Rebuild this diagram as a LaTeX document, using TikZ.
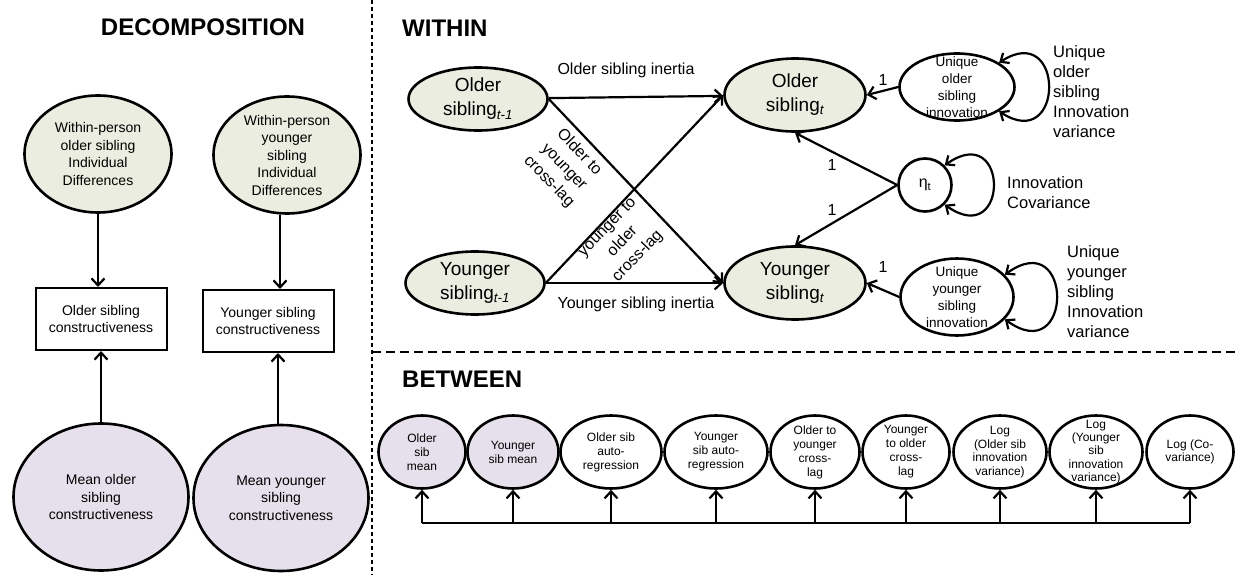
\documentclass[tikz,border=0pt]{standalone}
\usepackage{fontspec}
\setmainfont{Liberation Sans}
\usetikzlibrary{shapes.geometric,arrows.meta}
\definecolor{gfill}{HTML}{EAEDDF}
\definecolor{pfill}{HTML}{E5E0EC}
\newcommand\fsz[2]{\fontsize{#1}{#2}\selectfont}
\newcommand\ellnode[7]{%
  \node[ellshape,#5,minimum width=#3pt,minimum height=#4pt] (#1) at (#2) {};
  \node[lbl,font=#6] (#1-t) at (#1) {#7};}
\begin{document}
\begin{tikzpicture}[x=1pt,y=-1pt,
  ellshape/.style={ellipse,draw,line width=2.6pt,inner sep=0pt},
  lbl/.style={align=center,inner sep=0pt},
  boxstyle/.style={rectangle,draw,line width=2pt,inner sep=0pt,minimum width=131pt,minimum height=62pt,align=center,font=\fsz{14}{17}},
  arr/.style={line width=2.2pt,-{Straight Barb[length=7pt,width=13pt]}},
  loopy/.style={line width=2.2pt,{Straight Barb[length=7pt,width=12pt]}-{Straight Barb[length=7pt,width=12pt]}},
  sep/.style={line width=1.3pt},
  head/.style={inner sep=0pt,font=\fsz{24}{28}\bfseries},
  elab/.style={inner sep=0pt,font=\fsz{16}{20}},
  rlab/.style={inner sep=0pt,align=left,anchor=west,font=\fsz{16.5}{20}}
]
\useasboundingbox (0,0) rectangle (1235,575);
% separators
\draw[sep,dash pattern=on 4pt off 3pt] (372,0) -- (372,575);
\draw[sep,dash pattern=on 9pt off 5pt] (372,352) -- (1235,352);

% ---------------- DECOMPOSITION ----------------
\node[head] (hdec) at (203,27) {DECOMPOSITION};
\ellnode{e1}{98,154}{147}{117}{fill=gfill}{\fsz{14}{17.5}}{Within-person\\older sibling\\Individual\\Differences}
\ellnode{e2}{287,155}{147}{117}{fill=gfill}{\fsz{14}{17.5}}{Within-person\\younger\\sibling\\Individual\\Differences}
\node[boxstyle] (b1x) at (101,319) {Older sibling\\constructiveness};
\node[boxstyle] (b2x) at (268,321) {Younger sibling\\constructiveness};
\ellnode{e3}{101,497}{175}{147}{fill=pfill}{\fsz{14}{17.5}}{Mean older\\sibling\\constructiveness}
\ellnode{e4}{281,498}{175}{146}{fill=pfill}{\fsz{14}{17.5}}{Mean younger\\sibling\\constructiveness}
\draw[arr] (e1.south) -- (e1.south |- b1x.north);
\draw[arr] ([xshift=-7pt]e2.south) -- ([xshift=-7pt]e2.south |- b2x.north);
\draw[arr] (e3.north) -- (e3.north |- b1x.south);
\draw[arr] ([xshift=-3pt]e4.north) -- ([xshift=-3pt]e4.north |- b2x.south);

% ---------------- WITHIN ----------------
\node[head,anchor=west] (hwit) at (402,28) {WITHIN};
\ellnode{ol}{478,99}{139}{63}{fill=gfill}{\fsz{19}{24}}{Older\\sibling\textsubscript{\itshape t-1}}
\ellnode{yl}{475,283}{139}{63}{fill=gfill}{\fsz{19}{24}}{Younger\\sibling\textsubscript{\itshape t-1}}
\ellnode{ot}{795,95}{141}{73}{fill=gfill}{\fsz{19}{24}}{Older\\sibling\textsubscript{\itshape t}}
\ellnode{yt}{795,283}{141}{73}{fill=gfill}{\fsz{19}{24}}{Younger\\sibling\textsubscript{\itshape t}}
\node[circle,draw,line width=2.6pt,inner sep=0pt,minimum size=53pt,font=\fsz{16}{20}] (eta) at (925,185) {η\textsubscript{t}};
\ellnode{uo}{957,87}{115}{67}{}{\fsz{13.5}{17}}{Unique\\older\\sibling\\innovation}
\ellnode{uy}{957,297}{113}{77}{}{\fsz{13.5}{17}}{Unique\\younger\\sibling\\innovation}

\draw[arr] (ol) -- (ot);
\draw[arr] (yl) -- (yt);
\draw[arr] (ol.east) -- (yt.west);
\draw[arr] (yl.east) -- (ot.west);
\draw[arr] (eta.west) -- (ot.south);
\draw[arr] (eta.west) -- (yt.north);
\draw[arr] (uo.west) -- (ot.east);
\draw[arr] (uy.west) -- (yt.east);

\draw[loopy] (uo.30) .. controls +(66,-43) and +(66,43) .. (uo.-30);
\draw[loopy] (eta.45) .. controls +(65,-46) and +(65,46) .. (eta.-45);
\draw[loopy] (uy.25) .. controls +(69,-50) and +(69,50) .. (uy.-25);

\node[elab] (linr1) at (626,70) {Older sibling inertia};
\node[elab] (linr2) at (636,304) {Younger sibling inertia};
\node[elab,rotate=-46,align=center,font=\fsz{16}{21}] (lcl1) at (564,167) {Older to\\younger\\cross-lag};
\node[elab,rotate=46,align=center,font=\fsz{16}{21}] (lcl2) at (623,242) {younger to\\older\\cross-lag};
\node[elab] (one1) at (883,80) {1};
\node[elab] (one2) at (832,165) {1};
\node[elab] (one3) at (832,210) {1};
\node[elab] (one4) at (883,267) {1};
\node[rlab] (luo) at (1053,92) {Unique\\older\\sibling\\Innovation\\variance};
\node[rlab] (lcov) at (1007,193) {Innovation\\Covariance};
\node[rlab] (luy) at (1067,292) {Unique\\younger\\sibling\\Innovation\\variance};

% ---------------- BETWEEN ----------------
\node[head,anchor=west] (hbet) at (402,379) {BETWEEN};
\ellnode{q1}{422,452}{87}{73}{fill=pfill}{\fsz{12}{14}}{Older\\sib\\mean}
\ellnode{q2}{513,452}{91}{73}{fill=pfill}{\fsz{12}{14}}{Younger\\sib mean}
\ellnode{q3}{611,452}{101}{73}{}{\fsz{12}{14}}{Older sib\\auto-\\regression}
\ellnode{q4}{716,452}{103}{73}{}{\fsz{12}{14}}{Younger\\sib auto-\\regression}
\ellnode{q5}{815,452}{89}{73}{}{\fsz{12}{14}}{Older to\\younger\\cross-\\lag}
\ellnode{q6}{906,452}{87}{73}{}{\fsz{12}{14}}{Younger\\to older\\cross-\\lag}
\ellnode{q7}{1000,452}{93}{73}{}{\fsz{12}{13.5}}{Log\\(Older sib\\innovation\\variance)}
\ellnode{q8}{1096,452}{93}{73}{}{\fsz{12}{13.3}}{Log\\(Younger\\sib\\innovation\\variance)}
\ellnode{q9}{1190,452}{87}{73}{}{\fsz{12}{13}}{Log (Co-\\variance)}
\coordinate (bus) at (421,523);
\draw[line width=2.2pt] (q1.south |- bus) -- (q9.south |- bus);
\foreach \q in {q1,q2,q3,q4,q5,q6,q7,q8,q9}{
  \draw[arr] (\q.south |- bus) -- (\q.south);
}
\end{tikzpicture}
\end{document}
